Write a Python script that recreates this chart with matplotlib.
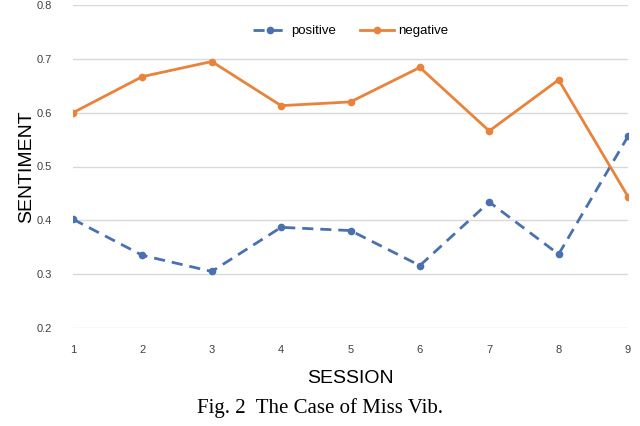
import matplotlib
matplotlib.use("Agg")
import matplotlib.pyplot as plt

sessions = [1, 2, 3, 4, 5, 6, 7, 8, 9]
positive = [0.402, 0.335, 0.305, 0.387, 0.381, 0.316, 0.434, 0.337, 0.556]
negative = [0.600, 0.667, 0.695, 0.613, 0.620, 0.684, 0.566, 0.661, 0.444]
y_ticks = [0.2, 0.3, 0.4, 0.5, 0.6, 0.7, 0.8]

BLUE = '#4a70b0'
ORANGE = '#e9823a'

plt.rcParams['font.family'] = ['Liberation Sans', 'DejaVu Sans']

fig = plt.figure(figsize=(6.4, 4.26), dpi=100)
ax = fig.add_axes([73 / 640, 1 - 328 / 426, 555 / 640, 323 / 426])

ax.plot(sessions, positive, color=BLUE, linewidth=2, linestyle=(0, (4, 2.5)),
        marker='o', markersize=4.5, label='positive')
ax.plot(sessions, negative, color=ORANGE, linewidth=2,
        marker='o', markersize=4.5, label='negative')

ax.set_xlim(1, 9)
ax.set_ylim(0.2, 0.8)
ax.set_xticks(sessions)
ax.set_yticks(y_ticks)
ax.set_yticklabels([f"{v:.1f}" for v in y_ticks])
ax.grid(axis='y', color='#d9d9d9', linewidth=1)
ax.set_axisbelow(True)
for s in ax.spines.values():
  s.set_visible(False)
ax.tick_params(axis='both', length=0, labelsize=8, colors='#404040')
ax.tick_params(axis='y', pad=15)
ax.tick_params(axis='x', pad=12)

ax.set_ylabel("SENTIMENT", fontsize=14, labelpad=1)
ax.set_xlabel("SESSION", fontsize=14, labelpad=11)

ax.legend(loc='upper center', bbox_to_anchor=(0.5, 0.975), ncol=2, frameon=False,
          fontsize=9.5, handlelength=2.6, columnspacing=1.8, handletextpad=0.3)

fig.text(0.5, 1 - 408 / 426, "Fig. 2  The Case of Miss Vib.", ha='center', va='center',
         fontsize=15, family='Liberation Serif')

fig.savefig("out.png", dpi=100)
